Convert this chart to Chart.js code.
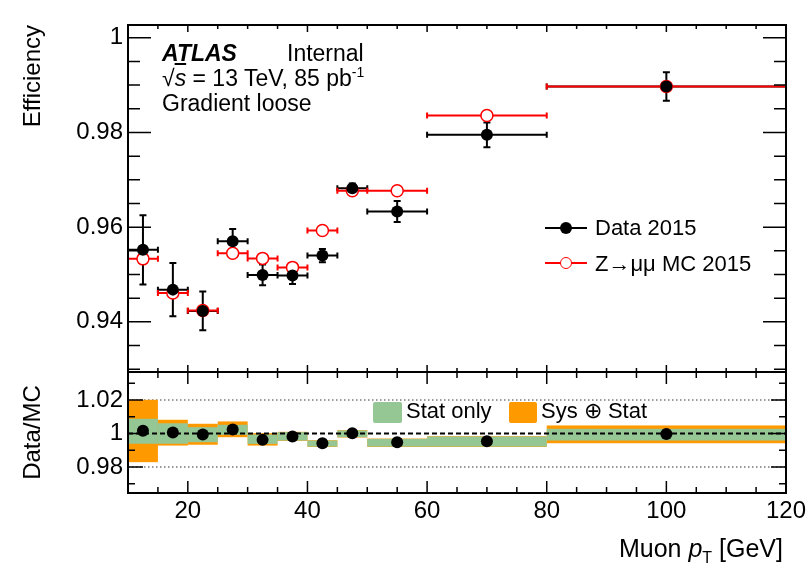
<!DOCTYPE html>
<html>
<head>
<meta charset="utf-8">
<script src="https://cdn.jsdelivr.net/npm/chart.js@4/dist/chart.umd.min.js"></script>
<style>
body { margin: 0; background: #fff; }
#wrap { position: relative; width: 806px; height: 566px; font-family: "Liberation Sans", Arial, sans-serif; color: #000; }
#wrap canvas { position: absolute; left: 0; top: 0; }
.t { position: absolute; white-space: nowrap; line-height: 1; }
.box { position: absolute; }
</style>
</head>
<body>
<div id="wrap">
<canvas id="eff" width="806" height="566"></canvas>
<canvas id="ratio" width="806" height="566"></canvas>

<div class="t" style="left:162px;top:42px;font-size:23px;font-weight:bold;font-style:italic;">ATLAS</div>
<div class="t" style="left:287px;top:42px;font-size:23px;">Internal</div>
<div class="t" style="left:162px;top:67px;font-size:23px;">√<span style="text-decoration:overline"><i>s</i></span> = 13 TeV, 85 pb<span style="position:relative;top:-9px;font-size:14px">-1</span></div>
<div class="t" style="left:162px;top:92px;font-size:23px;">Gradient loose</div>

<div class="box" style="left:545px;top:227px;width:42px;height:2px;background:#000;"></div>
<div class="box" style="left:560px;top:222px;width:12px;height:12px;border-radius:50%;background:#000;"></div>
<div class="t" style="left:595px;top:217px;font-size:22px;">Data 2015</div>
<div class="box" style="left:545px;top:262px;width:42px;height:2px;background:#f00;"></div>
<div class="box" style="left:560px;top:257px;width:12px;height:12px;box-sizing:border-box;border-radius:50%;border:1.5px solid #f00;background:#fff;"></div>
<div class="t" style="left:595px;top:253px;font-size:22px;">Z→μμ MC 2015</div>

<div class="box" style="left:373px;top:402px;width:29px;height:21px;border-radius:2px;background:#95c795;"></div>
<div class="t" style="left:406px;top:400px;font-size:22px;">Stat only</div>
<div class="box" style="left:509px;top:402px;width:28px;height:21px;border-radius:2px;background:#ff9900;"></div>
<div class="t" style="left:541px;top:400px;font-size:22px;">Sys ⊕ Stat</div>

<div class="t" style="right:23px;top:536px;font-size:25px;">Muon <i>p</i><span style="position:relative;top:6px;font-size:16px">T</span> [GeV]</div>
</div>

<script>
// pT bins (GeV)
const binLow    = [10, 15, 20, 25, 30, 35, 40, 45, 50, 60, 80];
const binHigh   = [15, 20, 25, 30, 35, 40, 45, 50, 60, 80, 120];
const binCenter = [12.5, 17.5, 22.5, 27.5, 32.5, 37.5, 42.5, 47.5, 55, 70, 100];

// efficiencies
const effData    = [0.9552, 0.9468, 0.9423, 0.9570, 0.9499, 0.9498, 0.9540, 0.9682, 0.9633, 0.9795, 0.9897];
const effDataErr = [0.0073, 0.0056, 0.0041, 0.0026, 0.0022, 0.0018, 0.0014, 0.0010, 0.0022, 0.0026, 0.0030];
const effMC      = [0.9533, 0.9461, 0.9424, 0.9545, 0.9534, 0.9515, 0.9593, 0.9677, 0.9677, 0.9836, 0.9897];

// Data/MC ratio and bands
const ratio    = [1.0016, 1.0006, 0.9994, 1.0024, 0.9962, 0.9982, 0.9942, 1.0002, 0.9948, 0.9954, 0.9997];
const statLow  = [0.9939, 0.9939, 0.9948, 0.9992, 0.9938, 0.9958, 0.9922, 0.9978, 0.9922, 0.9922, 0.9958];
const statHigh = [1.0088, 1.0061, 1.0038, 1.0052, 0.9994, 1.0008, 0.9958, 1.0018, 0.9968, 0.9982, 1.0028];
const totLow   = [0.9829, 0.9928, 0.9933, 0.9978, 0.9928, 0.9956, 0.9920, 0.9976, 0.9920, 0.9920, 0.9942];
const totHigh  = [1.0201, 1.0082, 1.0058, 1.0072, 1.0002, 1.0010, 0.9960, 1.0020, 0.9970, 0.9984, 1.0048];

// tick labels
const xTickLabels     = [20, 40, 60, 80, 100, 120];
const effTickLabels   = [0.94, 0.96, 0.98, 1];
const ratioTickLabels = [0.98, 1, 1.02];

const font = "'Liberation Sans', Arial, sans-serif";

function steps(from, to, step) {
  let out = [];
  for (let k = Math.round(from / step); k <= Math.round(to / step) + 1e-9; k++) out.push(+(k * step).toFixed(4));
  return out;
}

// ROOT style frame with inward ticks on all four sides
const framePlugin = {
  id: 'frame',
  afterDraw(chart, args, o) {
    const {ctx, chartArea: a, scales: {x, y}} = chart;
    ctx.save();
    ctx.strokeStyle = '#000';
    ctx.lineWidth = 1.5;
    ctx.beginPath();
    steps(10, 120, 5).forEach(v => {
      const px = x.getPixelForValue(v);
      const len = xTickLabels.includes(v) ? o.xMajor : o.xMinor;
      ctx.moveTo(px, a.bottom); ctx.lineTo(px, a.bottom - len);
      ctx.moveTo(px, a.top); ctx.lineTo(px, a.top + len);
    });
    steps(o.yFrom, o.yTo, o.yStep).forEach(v => {
      const py = y.getPixelForValue(v);
      const len = o.majors.includes(v) ? o.yMajor : o.yMinor;
      ctx.moveTo(a.left, py); ctx.lineTo(a.left + len, py);
      ctx.moveTo(a.right, py); ctx.lineTo(a.right - len, py);
    });
    ctx.stroke();
    ctx.lineWidth = 2;
    ctx.strokeRect(a.left, a.top, a.right - a.left, a.bottom - a.top);
    ctx.restore();
  }
};

// horizontal (bin width) and vertical error bars
const errorBarPlugin = {
  id: 'errorBars',
  beforeDatasetsDraw(chart) {
    const {ctx, scales: {x, y}} = chart;
    ctx.save();
    ctx.lineWidth = 2;
    chart.data.datasets.forEach(ds => {
      ctx.strokeStyle = ds.pointBorderColor;
      ctx.beginPath();
      ds.data.forEach((p, i) => {
        const px = x.getPixelForValue(p.x), py = y.getPixelForValue(p.y);
        const x0 = x.getPixelForValue(binLow[i]), x1 = x.getPixelForValue(binHigh[i]);
        ctx.moveTo(x0, py); ctx.lineTo(x1, py);
        ctx.moveTo(x0, py - 3); ctx.lineTo(x0, py + 3);
        ctx.moveTo(x1, py - 3); ctx.lineTo(x1, py + 3);
        if (ds.yErr) {
          const y0 = y.getPixelForValue(p.y - ds.yErr[i]), y1 = y.getPixelForValue(p.y + ds.yErr[i]);
          ctx.moveTo(px, y0); ctx.lineTo(px, y1);
          ctx.moveTo(px - 3.5, y0); ctx.lineTo(px + 3.5, y0);
          ctx.moveTo(px - 3.5, y1); ctx.lineTo(px + 3.5, y1);
        }
      });
      ctx.stroke();
    });
    ctx.restore();
  }
};

// uncertainty bands and reference lines in ratio panel
const bandPlugin = {
  id: 'bands',
  beforeDatasetsDraw(chart) {
    const {ctx, chartArea: a, scales: {x, y}} = chart;
    ctx.save();
    ctx.strokeStyle = '#777';
    ctx.lineWidth = 1.5;
    ctx.setLineDash([1.5, 2.5]);
    ratioTickLabels.filter(v => v !== 1).forEach(v => {
      const py = y.getPixelForValue(v);
      ctx.beginPath(); ctx.moveTo(a.left, py); ctx.lineTo(a.right, py); ctx.stroke();
    });
    ctx.setLineDash([]);
    binLow.forEach((lo, i) => {
      const x0 = x.getPixelForValue(lo), x1 = x.getPixelForValue(binHigh[i]);
      ctx.fillStyle = '#ff9900';
      let y0 = y.getPixelForValue(totHigh[i]), y1 = y.getPixelForValue(totLow[i]);
      ctx.fillRect(x0, y0, x1 - x0, y1 - y0);
    });
    binLow.forEach((lo, i) => {
      const x0 = x.getPixelForValue(lo), x1 = x.getPixelForValue(binHigh[i]);
      ctx.fillStyle = '#95c795';
      let y0 = y.getPixelForValue(statHigh[i]), y1 = y.getPixelForValue(statLow[i]);
      ctx.fillRect(x0, y0, x1 - x0, y1 - y0);
    });
    ctx.strokeStyle = '#000';
    ctx.lineWidth = 2;
    ctx.setLineDash([5, 3]);
    const p1 = y.getPixelForValue(1);
    ctx.beginPath(); ctx.moveTo(a.left, p1); ctx.lineTo(a.right, p1); ctx.stroke();
    ctx.restore();
  }
};

const tickFont = {family: font, size: 24};

new Chart(document.getElementById('eff'), {
  type: 'scatter',
  data: {
    datasets: [
      {
        label: 'Data 2015',
        data: binCenter.map((c, i) => ({x: c, y: effData[i]})),
        yErr: effDataErr,
        pointRadius: 6,
        pointBackgroundColor: '#000',
        pointBorderColor: '#000',
        pointBorderWidth: 0,
        order: 0
      },
      {
        label: 'Z→μμ MC 2015',
        data: binCenter.map((c, i) => ({x: c, y: effMC[i]})),
        pointRadius: 6,
        pointBackgroundColor: '#fff',
        pointBorderColor: '#f00',
        pointBorderWidth: 1.5,
        order: 1
      }
    ]
  },
  options: {
    responsive: false,
    animation: false,
    devicePixelRatio: 1,
    layout: {padding: {left: 0, right: 20, top: 25, bottom: 194}},
    scales: {
      x: {type: 'linear', display: false, min: 10, max: 120},
      y: {
        min: 0.9294, max: 1.0027,
        afterFit(s) { s.width = 128; },
        afterBuildTicks(s) { s.ticks = effTickLabels.map(v => ({value: v})); },
        ticks: {font: tickFont, color: '#000', padding: 5, callback: v => String(v)},
        grid: {display: false, drawTicks: false},
        border: {display: false},
        title: {display: true, text: 'Efficiency', align: 'end', color: '#000', font: {family: font, size: 24}, padding: {top: 19, bottom: 0}}
      }
    },
    plugins: {
      legend: {display: false},
      tooltip: {enabled: false},
      frame: {xMajor: 7, xMinor: 4, yMajor: 23, yMinor: 12, yFrom: 0.93, yTo: 1.0, yStep: 0.005, majors: effTickLabels}
    }
  },
  plugins: [errorBarPlugin, framePlugin]
});

new Chart(document.getElementById('ratio'), {
  type: 'scatter',
  data: {
    datasets: [{
      label: 'Data/MC',
      data: binCenter.map((c, i) => ({x: c, y: ratio[i]})),
      pointRadius: 6,
      pointBackgroundColor: '#000',
      pointBorderWidth: 0
    }]
  },
  options: {
    responsive: false,
    animation: false,
    devicePixelRatio: 1,
    layout: {padding: {left: 0, right: 20, top: 372, bottom: 0}},
    scales: {
      x: {
        type: 'linear', min: 10, max: 120,
        afterFit(s) { s.height = 73; s.paddingLeft = 0; s.paddingRight = 0; },
        afterBuildTicks(s) { s.ticks = xTickLabels.map(v => ({value: v})); },
        ticks: {font: tickFont, color: '#000', padding: 4, maxRotation: 0, autoSkip: false},
        grid: {display: false, drawTicks: false},
        border: {display: false}
      },
      y: {
        min: 0.9645, max: 1.0367,
        afterFit(s) { s.width = 128; },
        afterBuildTicks(s) { s.ticks = ratioTickLabels.map(v => ({value: v})); },
        ticks: {font: tickFont, color: '#000', padding: 5, callback: v => String(v)},
        grid: {display: false, drawTicks: false},
        border: {display: false},
        title: {display: true, text: 'Data/MC', align: 'center', color: '#000', font: {family: font, size: 24}, padding: {top: 19, bottom: 0}}
      }
    },
    plugins: {
      legend: {display: false},
      tooltip: {enabled: false},
      frame: {xMajor: 12, xMinor: 6, yMajor: 15, yMinor: 7, yFrom: 0.97, yTo: 1.03, yStep: 0.01, majors: ratioTickLabels}
    }
  },
  plugins: [bandPlugin, framePlugin]
});
</script>
</body>
</html>
